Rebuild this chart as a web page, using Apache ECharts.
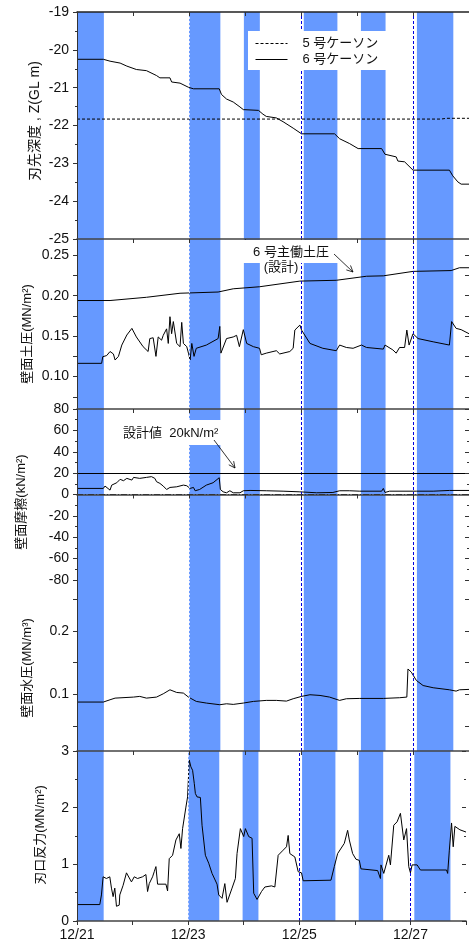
<!DOCTYPE html>
<html>
<head>
<meta charset="utf-8">
<script src="https://cdn.jsdelivr.net/npm/echarts@6/dist/echarts.min.js"></script>
<style>
  html, body { margin: 0; padding: 0; background: #fff; }
  #chart { width: 469px; height: 943px; }
</style>
</head>
<body>
<div id="chart"></div>
<script>
// 横軸は 12/21 0:00 からの経過日数
const dayLabels = ['12/21', '12/22', '12/23', '12/24', '12/25', '12/26', '12/27', '12/28'];

// 掘削停止時間帯 (青帯)
const bandStart = [0, 2.0, 2.98, 4.05, 5.07, 6.07];
const bandEnd   = [0.48, 2.56, 3.265, 4.65, 5.51, 6.72];

// 刃先深度
const depth5Days = [0, 6.5, 6.6, 7];
const depth5 = [-21.83, -21.83, -21.81, -21.81];
const depth6Days = [0, 0.47, 0.59, 0.77, 0.89, 1.06, 1.24, 1.42, 1.48, 1.66, 1.69, 1.84, 1.99, 2.08, 2.54, 2.58, 2.67, 2.79, 2.91, 2.97,
  3.24, 3.32, 3.38, 3.56, 3.68, 3.86, 4.01, 4.60, 4.69, 4.87, 5.02, 5.44, 5.50, 5.70, 5.73, 5.85, 6.00, 6.65, 6.71, 6.80, 6.86, 7.0];
const depth6 = [-20.25, -20.25, -20.30, -20.35, -20.43, -20.52, -20.55, -20.68, -20.74, -20.74, -20.85, -20.88, -20.99, -21.03, -21.03,
  -21.18, -21.30, -21.38, -21.51, -21.58, -21.60, -21.70, -21.76, -21.80, -21.90, -22.07, -22.22, -22.22, -22.35, -22.48,
  -22.61, -22.61, -22.76, -22.83, -22.94, -22.96, -23.18, -23.18, -23.33, -23.49, -23.55, -23.55];

// 壁面土圧
const activeDays = [0, 0.59, 1.24, 1.84, 2.52, 2.79, 3.26, 3.98, 4.63, 5.17, 5.47, 6.00, 6.68, 6.83, 7.0];
const activeP = [0.194, 0.194, 0.198, 0.203, 0.2045, 0.2085, 0.211, 0.218, 0.219, 0.224, 0.2245, 0.230, 0.231, 0.2345, 0.2345];
const earthDays = [0, 0.44, 0.46, 0.53, 0.59, 0.65, 0.68, 0.74, 0.80, 0.89, 0.98, 1.06, 1.18, 1.27, 1.30, 1.36, 1.41, 1.45, 1.51, 1.54,
  1.60, 1.63, 1.66, 1.69, 1.72, 1.78, 1.84, 1.87, 1.90, 1.96, 1.99, 2.02, 2.05, 2.09, 2.13, 2.31, 2.52, 2.55, 2.57, 2.67,
  2.79, 2.85, 2.90, 2.97, 3.03, 3.15, 3.26, 3.29, 3.38, 3.56, 3.62, 3.80, 3.86, 3.89, 3.98, 4.01, 4.16, 4.39, 4.63, 4.69,
  4.81, 4.93, 5.08, 5.17, 5.47, 5.50, 5.64, 5.70, 5.76, 5.85, 5.89, 5.93, 6.00, 6.09, 6.36, 6.65, 6.69, 6.77, 6.86, 7.0];
const earthP = [0.1164, 0.1164, 0.1246, 0.126, 0.131, 0.128, 0.1205, 0.125, 0.139, 0.1514, 0.1596, 0.149, 0.137, 0.131, 0.147, 0.148,
  0.125, 0.149, 0.145, 0.151, 0.159, 0.141, 0.174, 0.153, 0.168, 0.141, 0.137, 0.167, 0.141, 0.137, 0.129, 0.1205, 0.141, 0.125,
  0.135, 0.139, 0.147, 0.162, 0.129, 0.147, 0.149, 0.151, 0.137, 0.158, 0.141, 0.137, 0.135, 0.127, 0.129, 0.132, 0.128, 0.131,
  0.135, 0.1575, 0.1637, 0.1575, 0.141, 0.135, 0.132, 0.139, 0.136, 0.135, 0.139, 0.136, 0.134, 0.139, 0.133, 0.129, 0.136,
  0.136, 0.1575, 0.139, 0.153, 0.147, 0.143, 0.139, 0.168, 0.1596, 0.158, 0.153];

// 壁面摩擦
const frictionDays = [0, 0.47, 0.50, 0.59, 0.62, 0.71, 0.77, 0.83, 0.89, 0.98, 1.01, 1.12, 1.24, 1.33, 1.39, 1.42, 1.48, 1.54, 1.60, 1.66,
  1.78, 1.90, 1.96, 2.02, 2.08, 2.11, 2.19, 2.31, 2.43, 2.54, 2.56, 2.61, 2.67, 2.73, 2.79, 2.91, 2.97, 3.09, 3.38, 3.68,
  3.98, 4.28, 4.57, 4.69, 4.87, 5.05, 5.44, 5.47, 5.50, 5.58, 6.06, 6.36, 6.65, 7.0];
const friction = [5.7, 5.7, 7.9, 4.1, 8.8, 11, 14.2, 12.9, 15.1, 13.5, 16, 15.1, 16, 16.7, 15.1, 12, 10.4, 7.9, 4.7, 6.6,
  7.2, 8.8, 8.2, 5.7, 6.6, 3.5, 4.7, 8.8, 11, 15.7, 4.7, 2.5, 1.6, 3.5, 1.6, 1.6, 3.5, 3.8, 3.5, 3.1,
  2.5, 1.6, 1.9, 3.5, 3.5, 3.1, 3.1, 5.7, 1.9, 3.1, 3.1, 3.1, 3.8, 3.8];

// 壁面水圧
const waterDays = [0, 0.47, 0.59, 0.68, 1.01, 1.12, 1.24, 1.42, 1.54, 1.66, 1.78, 1.90, 1.99, 2.13, 2.31, 2.55, 2.67, 2.79, 2.97, 3.15,
  3.38, 3.56, 3.74, 3.86, 4.01, 4.16, 4.34, 4.51, 4.69, 4.81, 5.05, 5.47, 5.76, 5.89, 5.91, 5.97, 6.06, 6.18, 6.36, 6.65,
  6.77, 6.83, 7.0];
const waterP = [0.088, 0.088, 0.0916, 0.0942, 0.0958, 0.0969, 0.0942, 0.0958, 0.101, 0.1073, 0.1031, 0.1021, 0.0958, 0.089, 0.0864,
  0.0838, 0.0853, 0.0843, 0.0864, 0.089, 0.0906, 0.0906, 0.0895, 0.0932, 0.0969, 0.0995, 0.0984, 0.0958, 0.0906, 0.0932,
  0.0937, 0.0937, 0.0948, 0.0958, 0.140, 0.135, 0.122, 0.114, 0.1105, 0.1073, 0.1052, 0.1073, 0.1079];

// 刃口反力
const edgeDays = [0, 0.41, 0.44, 0.47, 0.50, 0.53, 0.59, 0.62, 0.65, 0.68, 0.71, 0.76, 0.77, 0.83, 0.89, 0.92, 0.98, 1.01, 1.03, 1.09,
  1.18, 1.24, 1.27, 1.30, 1.36, 1.39, 1.42, 1.45, 1.60, 1.63, 1.66, 1.72, 1.78, 1.84, 1.87, 1.90, 1.96, 1.99, 2.02, 2.05,
  2.08, 2.11, 2.13, 2.16, 2.22, 2.25, 2.31, 2.37, 2.43, 2.52, 2.55, 2.61, 2.66, 2.70, 2.79, 2.85, 2.88, 2.94, 3.00, 3.03,
  3.09, 3.15, 3.18, 3.24, 3.32, 3.38, 3.50, 3.56, 3.62, 3.71, 3.77, 3.80, 3.83, 3.92, 3.98, 4.04, 4.07, 4.57, 4.63, 4.69,
  4.81, 4.87, 4.90, 4.96, 5.02, 5.08, 5.11, 5.41, 5.46, 5.47, 5.52, 5.61, 5.64, 5.70, 5.76, 5.82, 5.88, 5.93, 5.97, 6.00,
  6.03, 6.12, 6.18, 6.65, 6.67, 6.70, 6.74, 6.77, 6.80, 6.89, 7.0];
const edgeR = [0.29, 0.29, 0.46, 0.78, 0.79, 0.75, 0.78, 0.58, 0.43, 0.58, 0.26, 0.28, 0.46, 0.63, 0.85, 0.87, 0.69, 0.66, 0.78, 0.75,
  0.78, 0.82, 0.52, 0.66, 0.78, 0.87, 0.96, 0.65, 0.65, 0.53, 1.10, 1.16, 1.43, 1.54, 1.28, 1.63, 2.01, 2.19, 2.84, 2.72,
  2.66, 2.43, 2.25, 2.19, 2.18, 1.69, 1.16, 1.02, 0.84, 0.65, 0.46, 0.40, 0.66, 0.33, 0.58, 0.75, 1.19, 1.63, 1.49, 1.63,
  1.49, 1.46, 0.49, 0.38, 0.52, 0.60, 0.62, 0.60, 1.16, 1.25, 1.31, 1.51, 1.19, 1.13, 0.87, 0.85, 0.71, 0.72, 0.96, 1.19,
  1.37, 1.60, 1.43, 1.19, 1.09, 1.07, 0.92, 0.89, 0.75, 0.99, 0.84, 1.16, 0.99, 1.69, 1.75, 1.90, 1.43, 1.63, 0.96, 0.85,
  0.99, 0.99, 0.90, 0.90, 0.84, 1.25, 1.73, 1.31, 1.67, 1.61, 1.57];

const FONT = 'Arial, "Liberation Sans", "Noto Sans CJK JP", sans-serif';
const BLUE = '#6699ff';
const zip = (xs, ys) => xs.map((x, i) => [x, ys[i]]);

const chart = echarts.init(document.getElementById('chart'));

const grids = [
  { left: 77, right: 0, top: 12, height: 227 },
  { left: 77, right: 0, top: 239, height: 170 },
  { left: 77, right: 0, top: 409, height: 171 },
  { left: 77, right: 0, top: 580, height: 171 },
  { left: 77, right: 0, top: 751, height: 170 }
];

// 各段の縦軸 (nx, ny: 軸名の中心)
const yDefs = [
  { min: -25, max: -19, interval: 1, name: '刃先深度 , Z(GL m)', nx: 35, ny: 121, fs: 14 },
  { min: 0.06, max: 0.27, labels: [0.10, 0.15, 0.20, 0.25], ticks: [0.075, 0.10, 0.125, 0.15, 0.175, 0.20, 0.225, 0.25],
    digits: 2, name: '壁面土圧(MN/m²)', nx: 27.5, ny: 334, fs: 13 },
  { min: -80, max: 80, interval: 20, name: '壁面摩擦(kN/m²)', nx: 21, ny: 502, fs: 13 },
  { min: 0.011, max: 0.28, labels: [0.1, 0.2], ticks: [0.05, 0.1, 0.15, 0.2, 0.25],
    digits: 1, name: '壁面水圧(MN/m³)', nx: 27.5, ny: 668, fs: 13 },
  { min: 0, max: 3, interval: 1, name: '刃口反力(MN/m²)', nx: 40, ny: 835, fs: 13 }
];

const yAxes = [];
yDefs.forEach((d, i) => {
  const common = { type: 'value', gridIndex: i, min: d.min, max: d.max, splitLine: { show: false }, z: 10 };
  if (d.interval) {
    common.interval = d.interval;
    common.minorTick = { show: true, splitNumber: 2, length: 2, lineStyle: { color: '#333' } };
  }
  const left = Object.assign({}, common, {
    position: 'left',
    axisLine: { show: true, lineStyle: { color: '#333', width: 1 } },
    axisTick: { show: true, length: 4, lineStyle: { color: '#333' } },
    axisLabel: { fontSize: 14, color: '#111', fontFamily: FONT, margin: 8 }
  });
  const right = Object.assign({}, common, {
    position: 'right',
    axisLine: { show: false },
    axisTick: { show: true, inside: true, length: 4, lineStyle: { color: '#333' } },
    axisLabel: { show: false }
  });
  if (d.labels) {
    left.axisLabel.customValues = d.labels;
    left.axisLabel.formatter = v => v.toFixed(d.digits);
    left.axisTick.customValues = d.ticks;
    right.axisTick.customValues = d.ticks;
  }
  yAxes.push(left, right);
});

const xAxes = grids.map((g, i) => ({
  type: 'value', gridIndex: i, position: 'bottom', min: 0, max: 7, interval: 1,
  splitLine: { show: false }, z: 10,
  axisLine: { show: true, lineStyle: { color: '#444', width: 1.5 } },
  axisTick: { show: true, length: 4, lineStyle: { color: '#333' } },
  axisLabel: {
    show: i === 4, fontSize: 14, color: '#111', fontFamily: FONT, margin: 7,
    formatter: v => (v % 2 === 0 ? dayLabels[v] : '')
  }
}));
xAxes.push({
  type: 'value', gridIndex: 0, position: 'top', min: 0, max: 7, interval: 1,
  splitLine: { show: false }, z: 10,
  axisLine: { show: true, lineStyle: { color: '#222', width: 1.5 } },
  axisTick: { show: true, inside: true, length: 4, lineStyle: { color: '#333' } },
  axisLabel: { show: false }
});

const bandAreas = bandStart.map((s, k) => [{ xAxis: s }, { xAxis: bandEnd[k] }]);

const series = [];
grids.forEach((g, i) => {
  series.push({
    type: 'line', name: 'band' + i, xAxisIndex: i, yAxisIndex: i * 2, data: [], z: 1, silent: true,
    markArea: { silent: true, itemStyle: { color: BLUE, opacity: 1 }, data: bandAreas },
    markLine: {
      silent: true, symbol: 'none', label: { show: false },
      lineStyle: { color: '#0000dd', type: [3, 2], width: 1 },
      data: [
        { xAxis: 2, lineStyle: { color: '#d8e0ff', type: [2, 2], width: 1 } },
        { xAxis: 4 },
        { xAxis: 6 }
      ]
    }
  });
});

const lineBase = { type: 'line', symbol: 'none', z: 3, silent: true };
series.push(Object.assign({}, lineBase, {
  name: '5 号ケーソン', xAxisIndex: 0, yAxisIndex: 0, data: zip(depth5Days, depth5),
  lineStyle: { color: '#000', width: 1, type: [3, 2] }, itemStyle: { color: '#000' }
}));
series.push(Object.assign({}, lineBase, {
  name: '6 号ケーソン', xAxisIndex: 0, yAxisIndex: 0, data: zip(depth6Days, depth6),
  lineStyle: { color: '#000', width: 1 }, itemStyle: { color: '#000' }
}));
series.push(Object.assign({}, lineBase, {
  name: '6号主働土圧', xAxisIndex: 1, yAxisIndex: 2, data: zip(activeDays, activeP),
  lineStyle: { color: '#000', width: 1 }
}));
series.push(Object.assign({}, lineBase, {
  name: '壁面土圧', xAxisIndex: 1, yAxisIndex: 2, data: zip(earthDays, earthP),
  lineStyle: { color: '#000', width: 1 }
}));
series.push(Object.assign({}, lineBase, {
  name: '壁面摩擦', xAxisIndex: 2, yAxisIndex: 4, data: zip(frictionDays, friction),
  lineStyle: { color: '#000', width: 1 },
  markLine: {
    silent: true, symbol: 'none', label: { show: false },
    data: [
      { yAxis: 20, lineStyle: { color: '#000', width: 1, type: 'solid' } },
      { yAxis: 0, lineStyle: { color: '#000', width: 1, type: [6, 2, 1, 2] } }
    ]
  }
}));
series.push(Object.assign({}, lineBase, {
  name: '壁面水圧', xAxisIndex: 3, yAxisIndex: 6, data: zip(waterDays, waterP),
  lineStyle: { color: '#000', width: 1 }
}));
series.push(Object.assign({}, lineBase, {
  name: '刃口反力', xAxisIndex: 4, yAxisIndex: 8, data: zip(edgeDays, edgeR),
  lineStyle: { color: '#000', width: 1 }
}));

// 注記の矢印
function arrow(x1, y1, x2, y2) {
  const a = Math.atan2(y2 - y1, x2 - x1);
  const h = 7, s = 0.45;
  return [
    { type: 'line', z: 60, shape: { x1: x1, y1: y1, x2: x2, y2: y2 }, style: { stroke: '#000', lineWidth: 0.8 } },
    { type: 'polyline', z: 60, shape: { points: [
      [x2 - h * Math.cos(a - s), y2 - h * Math.sin(a - s)], [x2, y2], [x2 - h * Math.cos(a + s), y2 - h * Math.sin(a + s)]
    ] }, style: { stroke: '#000', fill: null, lineWidth: 0.8 } }
  ];
}

// 縦軸名 (縦書き回転)
const axisNames = yDefs.map(d => ({
  type: 'text', z: 60, x: d.nx, y: d.ny, rotation: Math.PI / 2,
  style: { text: d.name, align: 'center', verticalAlign: 'middle', fill: '#111', fontSize: d.fs, fontFamily: FONT }
}));

const noteStyle = { fill: '#111', fontSize: 13, fontFamily: FONT };
const graphic = [
  { type: 'rect', z: 50, shape: { x: 240, y: 240, width: 102, height: 23 }, style: { fill: '#fff' } },
  { type: 'text', z: 60, x: 291, y: 252, style: Object.assign({ text: '6 号主働土圧', align: 'center', verticalAlign: 'middle' }, noteStyle) },
  { type: 'text', z: 60, x: 281, y: 267, style: Object.assign({ text: '(設計)', align: 'center', verticalAlign: 'middle' }, noteStyle) },
  { type: 'rect', z: 50, shape: { x: 120, y: 420, width: 102, height: 25 }, style: { fill: '#fff' } },
  { type: 'text', z: 60, x: 123, y: 433, style: Object.assign({ text: '設計値  20kN/m²', align: 'left', verticalAlign: 'middle' }, noteStyle) }
].concat(arrow(334, 254, 353, 272), arrow(214, 440, 235, 468), axisNames);

chart.setOption({
  animation: false,
  backgroundColor: '#fff',
  textStyle: { fontFamily: FONT },
  grid: grids,
  xAxis: xAxes,
  yAxis: yAxes,
  legend: {
    data: ['5 号ケーソン', '6 号ケーソン'],
    orient: 'vertical', left: 248, top: 31,
    backgroundColor: '#fff', padding: [6, 12, 4, 7],
    itemWidth: 32, itemHeight: 14, itemGap: 3, z: 40,
    itemStyle: { color: 'transparent', borderColor: 'transparent', borderWidth: 0, opacity: 0 },
    lineStyle: { width: 1 },
    textStyle: { fontSize: 13, color: '#111', fontFamily: FONT, padding: [0, 0, 0, 10] }
  },
  series: series,
  graphic: graphic
});

window.addEventListener('resize', () => {
  chart.resize();
});
</script>
</body>
</html>
